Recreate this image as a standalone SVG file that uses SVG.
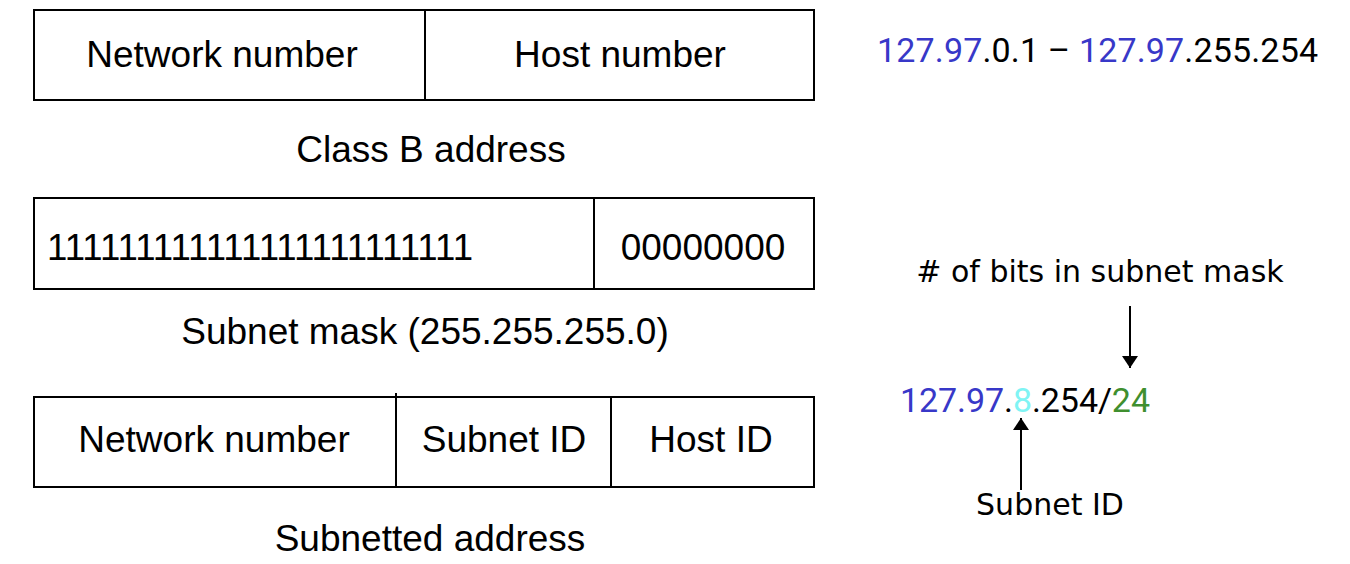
<svg xmlns="http://www.w3.org/2000/svg" width="1350" height="564" viewBox="0 0 1350 564">
<defs>
<style>
.box{fill:#fff;stroke:#000;stroke-width:2}
.div{stroke:#000;stroke-width:2;fill:none}
.lbl{font-family:"Liberation Sans",Arial,sans-serif;font-size:37px;fill:#000}
.num{font-family:Roboto,"DejaVu Sans",sans-serif;font-size:34px;fill:#000}
.hand{font-family:"DejaVu Sans","Noto Sans",sans-serif;font-size:30px;fill:#000}
.blue{fill:#3838c8}
.cyan{fill:#80f4f4}
.green{fill:#3f8f2f}
.conn{stroke:#000;stroke-width:2;fill:none}
</style>
<marker id="ah" viewBox="0 0 12 16" refX="12" refY="8" markerWidth="12" markerHeight="16" markerUnits="userSpaceOnUse" orient="auto">
<path d="M0,0 L12,8 L0,16 Z" fill="#000"/>
</marker>
</defs>
<rect width="1350" height="564" fill="#fff"/>
<g id="classB">
<rect class="box" x="34" y="10" width="780" height="90"/>
<line class="div" x1="425" y1="10" x2="425" y2="100"/>
<text class="lbl" x="222" y="67" text-anchor="middle">Network number</text>
<text class="lbl" x="620" y="67" text-anchor="middle">Host number</text>
<text class="lbl" x="431" y="162" text-anchor="middle">Class B address</text>
</g>
<g id="mask">
<rect class="box" x="34" y="198" width="780" height="91"/>
<line class="div" x1="594" y1="198" x2="594" y2="289"/>
<text class="lbl" x="47" y="260" textLength="426" lengthAdjust="spacingAndGlyphs">111111111111111111111111</text>
<text class="lbl" x="703" y="260" text-anchor="middle">00000000</text>
<text class="lbl" x="425" y="344" text-anchor="middle">Subnet mask (255.255.255.0)</text>
</g>
<g id="subnetted">
<rect class="box" x="34" y="397" width="780" height="90"/>
<line class="div" x1="396" y1="393" x2="396" y2="487"/>
<line class="div" x1="611" y1="397" x2="611" y2="487"/>
<text class="lbl" x="214" y="452" text-anchor="middle">Network number</text>
<text class="lbl" x="504" y="452" text-anchor="middle">Subnet ID</text>
<text class="lbl" x="711" y="452" text-anchor="middle">Host ID</text>
<text class="lbl" x="430" y="551" text-anchor="middle">Subnetted address</text>
</g>
<g id="range">
<text class="num" x="877" y="62" textLength="441" lengthAdjust="spacing"><tspan class="blue">127.97</tspan>.0.1 – <tspan class="blue">127.97</tspan>.255.254</text>
</g>
<g id="bitsLabel">
<text class="hand" x="1100" y="282" text-anchor="middle">#  of bits in subnet mask</text>
</g>
<g id="cidr">
<text class="num" x="900" y="412" textLength="250" lengthAdjust="spacing"><tspan class="blue">127.97</tspan>.<tspan class="cyan">8</tspan>.254/<tspan class="green">24</tspan></text>
</g>
<g id="subnetLabel">
<text class="hand" x="1050" y="515" text-anchor="middle">Subnet ID</text>
</g>
<g id="connectors">
<line class="conn" x1="1130" y1="306" x2="1130" y2="368" marker-end="url(#ah)"/>
<line class="conn" x1="1021" y1="490" x2="1021" y2="418" marker-end="url(#ah)"/>
</g>
</svg>
